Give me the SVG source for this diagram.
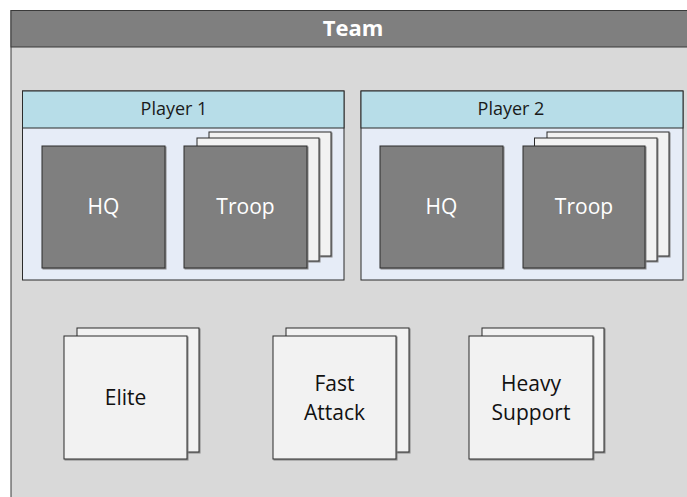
<svg xmlns="http://www.w3.org/2000/svg" width="687" height="497" viewBox="0 0 687 497">
  <defs>
    <filter id="shadow" x="-5%" y="-5%" width="110%" height="110%">
      <feDropShadow dx="1" dy="1" stdDeviation="0.4" flood-color="#7a7a7a" flood-opacity="0.9"/>
    </filter>
  </defs>
  <style>
    text { font-family: "Open Sans", "Liberation Sans", sans-serif; text-anchor: middle; }
    .frame-body { fill: #d9d9d9; stroke: #3a3a3a; stroke-width: 1; }
    .frame-head { fill: #7f7f7f; stroke: #3a3a3a; stroke-width: 1; }
    .frame-title { fill: #ffffff; font-size: 22px; font-weight: bold; }
    .player-body { fill: #e6ecf7; stroke: #2b2b2b; stroke-width: 1; }
    .player-head { fill: #b7dde8; stroke: #2b2b2b; stroke-width: 1; }
    .player-title { fill: #1a1a1a; font-size: 18px; }
    .dark { fill: #7f7f7f; stroke: #2b2b2b; stroke-width: 1; filter: url(#shadow); }
    .sheet { fill: #f2f2f2; stroke: #2b2b2b; stroke-width: 1; filter: url(#shadow); }
    .light-label { fill: #ffffff; font-size: 21px; }
    .dark-label { fill: #111111; font-size: 21px; }
  </style>

  <!-- Team container -->
  <g id="team">
    <rect class="frame-body" x="11" y="10.5" width="690" height="500"/>
    <rect class="frame-head" x="11" y="10.5" width="690" height="36.5"/>
    <text class="frame-title" x="353" y="36">Team</text>
  </g>

  <!-- Player 1 -->
  <g id="player1">
    <rect class="player-body" x="22.5" y="91" width="321.5" height="189"/>
    <rect class="player-head" x="22.5" y="91" width="321.5" height="37"/>
    <text class="player-title" x="174" y="115">Player 1</text>
  </g>
  <g id="player1-hq">
    <rect class="dark" x="42" y="146" width="123" height="122"/>
    <text class="light-label" x="103.5" y="214">HQ</text>
  </g>
  <g id="player1-troop">
    <rect class="sheet" x="209" y="132" width="122" height="124"/>
    <rect class="sheet" x="197" y="138" width="122" height="123"/>
    <rect class="dark" x="184" y="146" width="123" height="122"/>
    <text class="light-label" x="245.5" y="214">Troop</text>
  </g>

  <!-- Player 2 -->
  <g id="player2">
    <rect class="player-body" x="361" y="91" width="322" height="189"/>
    <rect class="player-head" x="361" y="91" width="322" height="37"/>
    <text class="player-title" x="511" y="115">Player 2</text>
  </g>
  <g id="player2-hq">
    <rect class="dark" x="380" y="146" width="123" height="122"/>
    <text class="light-label" x="441.5" y="214">HQ</text>
  </g>
  <g id="player2-troop">
    <rect class="sheet" x="547" y="132" width="122" height="124"/>
    <rect class="sheet" x="534.5" y="138" width="122.5" height="123"/>
    <rect class="dark" x="523" y="146" width="122" height="122"/>
    <text class="light-label" x="584" y="214">Troop</text>
  </g>

  <!-- Unit pools -->
  <g id="elite">
    <rect class="sheet" x="77" y="328" width="122" height="124"/>
    <rect class="sheet" x="64" y="336" width="123" height="123"/>
    <text class="dark-label" x="125.5" y="405">Elite</text>
  </g>
  <g id="fast-attack">
    <rect class="sheet" x="286" y="328" width="123" height="124"/>
    <rect class="sheet" x="273" y="336" width="123" height="123"/>
    <text class="dark-label" x="334.5" y="391">Fast</text>
    <text class="dark-label" x="334.5" y="419.5">Attack</text>
  </g>
  <g id="heavy-support">
    <rect class="sheet" x="482" y="328" width="122" height="124"/>
    <rect class="sheet" x="469" y="336" width="124" height="123"/>
    <text class="dark-label" x="531" y="391">Heavy</text>
    <text class="dark-label" x="531" y="419.5">Support</text>
  </g>

  <!-- No connectors in this diagram -->
  <g id="connectors"/>
</svg>
